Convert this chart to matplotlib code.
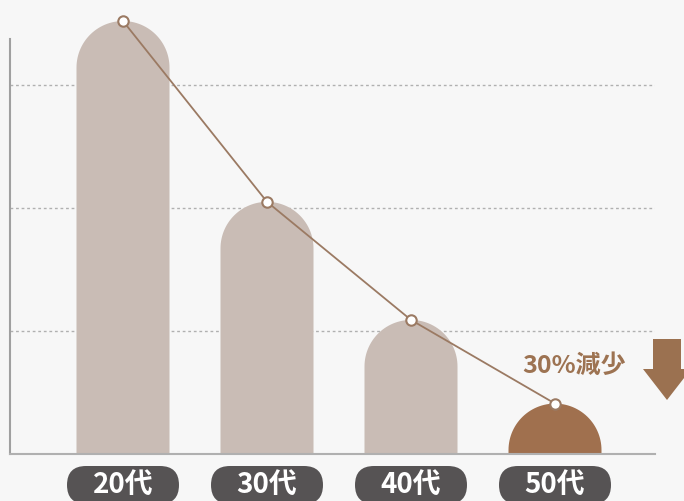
import numpy as np
import matplotlib
matplotlib.use("Agg")
from matplotlib import pyplot as plt
from matplotlib.patches import Polygon, FancyBboxPatch

plt.rcParams['font.family'] = ['Noto Sans CJK JP', 'DejaVu Sans']

# values (gridlines at 10 / 20 / 30)
categories = ["20代", "30代", "40代", "50代"]
values = [35.2, 20.5, 10.9, 4.1]
bar_colors = ["#c9bcb5", "#c9bcb5", "#c9bcb5", "#a0704e"]
grid_values = [10, 20, 30]
note_text = "30%減少"

W, H = 684, 502
fig = plt.figure(figsize=(W / 100, H / 100), dpi=100, facecolor="#f7f7f7")
# axes from x=10..655 px, y=0..455 px (image coords)
ax = fig.add_axes([10 / W, (H - 455) / H, 645 / W, 455 / H])
ax.set_facecolor("#f7f7f7")

step = 144.0  # px between bar centres
ax.set_xlim((10 - 123) / step, (655 - 123) / step)
ymax = 455 / 12.3
ax.set_ylim(0, ymax)

# px -> data conversion for rounded tops
rx = 46.5 / step
ry = 46.5 / 12.3

x = np.arange(len(categories))
for xi, v, c in zip(x, values, bar_colors):
    cy = v - ry
    t = np.linspace(0, np.pi, 60)
    dome_x = xi + rx * np.cos(t)
    dome_y = np.maximum(cy + ry * np.sin(t), 0)
    xs = np.concatenate([[xi + rx], dome_x, [xi - rx]])
    ys = np.concatenate([[0], dome_y, [0]])
    ax.add_patch(Polygon(np.column_stack([xs, ys]), closed=True, fc=c, ec="none", zorder=2))

ax.plot(x, values, color="#9b7a63", lw=1.3, zorder=3,
        marker="o", markersize=7.5, markerfacecolor="white",
        markeredgecolor="#9b7a63", markeredgewidth=1.5)

# grid and spines
ax.set_yticks(grid_values)
ax.yaxis.grid(True, linestyle=(0, (2, 2)), color="#b0b0b0", lw=1, zorder=1)
ax.set_xticks([])
ax.tick_params(axis="y", length=0, labelleft=False)
for s in ["top", "right"]:
    ax.spines[s].set_visible(False)
ax.spines["left"].set_color("#a0a0a0")
ax.spines["left"].set_linewidth(1.5)
ax.spines["left"].set_bounds(0, 415 / 12.3)
ax.spines["bottom"].set_color("#b0b0b0")
ax.spines["bottom"].set_linewidth(1.5)

# category pills below the axis
tr = ax.get_xaxis_transform()
pw = 112 / step
ph = 38 / 455
rs = 19 / step
for xi, lab in zip(x, categories):
    pill = FancyBboxPatch((xi - pw / 2, -(467 - 455) / 455 - ph), pw, ph,
                          boxstyle=f"round,pad=0,rounding_size={rs}",
                          mutation_aspect=(19 / 455) / rs,
                          transform=tr, fc="#565354", ec="none", clip_on=False)
    ax.add_patch(pill)
    ax.text(xi, -(485 - 455) / 455, lab, transform=tr, ha="center", va="center",
            color="white", fontsize=20, fontweight="bold", clip_on=False)

# note and arrow on the right
fig.text(574 / W, 1 - 366 / H, note_text, ha="center", va="center",
         color="#9d7352", fontsize=18, fontweight="bold")


def px(u, v):
    return (u / W, 1 - v / H)


arrow = [px(653, 340), px(681, 340), px(681, 370), px(691, 370), px(667, 401),
         px(643, 370), px(653, 370)]
fig.patches.append(Polygon(arrow, closed=True, fc="#9b7150", ec="none",
                           transform=fig.transFigure))

fig.savefig("out.png", dpi=100, facecolor=fig.get_facecolor())
